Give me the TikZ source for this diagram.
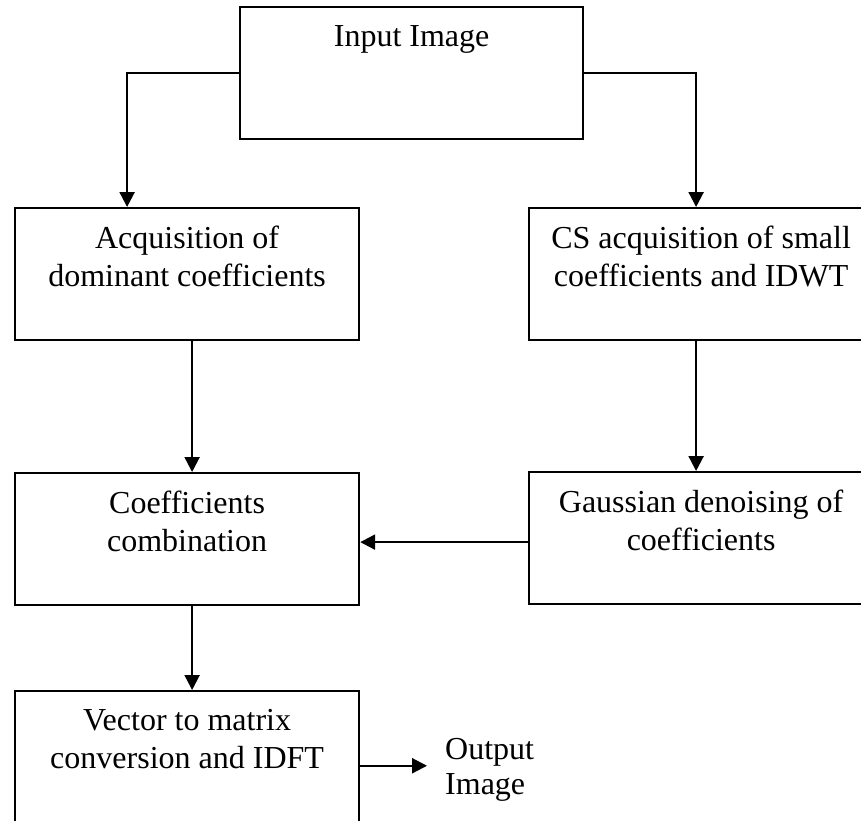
\documentclass[tikz,border=0pt]{standalone}
\usepackage{fontspec}
\setmainfont{Liberation Serif}
\usetikzlibrary{arrows.meta,calc}
\begin{document}
\begin{tikzpicture}[x=1pt,y=-1pt,
  block/.style={draw,line width=2.2pt,minimum width=344pt,minimum height=132pt,
    anchor=north west,inner sep=0pt},
  blocktext/.style={anchor=north,inner sep=0pt,align=center,
    font=\fontsize{32}{38}\selectfont},
  outtext/.style={anchor=north west,inner sep=0pt,align=left,
    font=\fontsize{32}{35}\selectfont},
  flow/.style={line width=2.2pt,-{Triangle[length=15pt,width=15pt]}},
]
\clip (0,0) rectangle (861,820);

% boxes
\node[block,minimum width=343pt] (inp) at (239,6) {};
\node[block] (acq)   at (14,207) {};
\node[block] (cs)    at (528,207) {};
\node[block] (comb)  at (14,472) {};
\node[block] (gauss) at (528,471) {};
\node[block] (vec)   at (14,690) {};

% box texts
\node[blocktext] (inpT)   at ([yshift=-19pt]inp.north)   {Input Image};
\node[blocktext] (acqT)   at ([yshift=-19pt]acq.north)   {Acquisition of\\dominant coefficients};
\node[blocktext] (csT)    at ([yshift=-19pt]cs.north)    {CS acquisition of small\\coefficients and IDWT};
\node[blocktext] (combT)  at ([yshift=-19pt]comb.north)  {Coefficients\\combination};
\node[blocktext] (gaussT) at ([yshift=-19pt]gauss.north) {Gaussian denoising of\\coefficients};
\node[blocktext] (vecT)   at ([yshift=-19pt]vec.north)   {Vector to matrix\\conversion and IDFT};
\node[outtext] (out) at (445,738) {Output\\Image};

% connectors
\draw[flow] (inp.west) -| ([xshift=-60pt]acq.north);
\draw[flow] (inp.east) -| ([xshift=-5pt]cs.north);
\draw[flow] ([xshift=5pt]acq.south) -- ([xshift=5pt]comb.north);
\draw[flow] ([xshift=-5pt]cs.south) -- ([xshift=-5pt]gauss.north);
\draw[flow] ([yshift=-4pt]gauss.west) -- ([yshift=-4pt]gauss.west -| comb.east);
\draw[flow] ([xshift=5pt]comb.south) -- ([xshift=5pt]vec.north);
\coordinate (outtip) at ([xshift=-18pt,yshift=4pt]out.west);
\draw[flow] (vec.east |- outtip) -- (outtip);
\end{tikzpicture}
\end{document}
